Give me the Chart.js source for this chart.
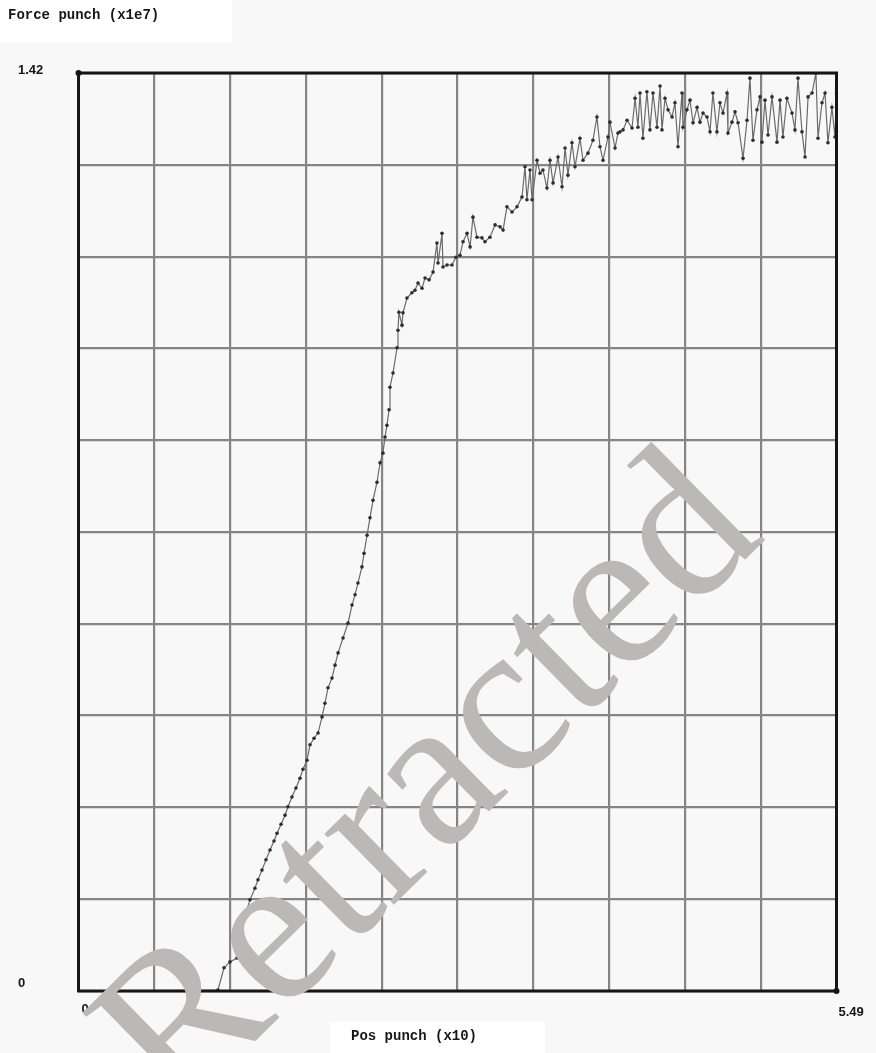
<!DOCTYPE html>
<html>
<head>
<meta charset="utf-8">
<script src="https://cdn.jsdelivr.net/npm/chart.js@4.4.1/dist/chart.umd.min.js"></script>
<style>
  html, body { margin: 0; padding: 0; background: #f8f8f8; }
  #wrap { position: relative; width: 876px; height: 1053px; }
</style>
</head>
<body>
<div id="wrap"><canvas id="forceChart"></canvas></div>
<script>
// punch position (x10) against punch force (x1e7)
const posPunch = [0, 1.010, 1.054, 1.097, 1.148, 1.170, 1.184, 1.213, 1.242, 1.278, 1.300, 1.329, 1.358, 1.387, 1.416, 1.438, 1.467, 1.496, 1.517, 1.546, 1.575, 1.604, 1.626, 1.655, 1.677, 1.706, 1.735, 1.764, 1.785, 1.807, 1.836, 1.858, 1.880, 1.916, 1.952, 1.981, 2.003, 2.024, 2.053, 2.068, 2.090, 2.111, 2.133, 2.162, 2.184, 2.205, 2.220, 2.234, 2.249, 2.256, 2.278, 2.307, 2.314, 2.321, 2.343, 2.350, 2.379, 2.415, 2.437, 2.459, 2.488, 2.510, 2.539, 2.568, 2.596, 2.604, 2.633, 2.640, 2.669, 2.705, 2.734, 2.763, 2.785, 2.814, 2.836, 2.857, 2.886, 2.922, 2.944, 2.980, 3.017, 3.053, 3.075, 3.103, 3.140, 3.176, 3.212, 3.234, 3.248, 3.270, 3.285, 3.321, 3.343, 3.364, 3.393, 3.415, 3.437, 3.473, 3.502, 3.524, 3.545, 3.574, 3.596, 3.632, 3.654, 3.690, 3.726, 3.755, 3.777, 3.799, 3.835, 3.849, 3.886, 3.907, 3.922, 3.944, 3.973, 4.009, 4.031, 4.052, 4.067, 4.088, 4.117, 4.139, 4.161, 4.190, 4.212, 4.226, 4.248, 4.270, 4.299, 4.320, 4.342, 4.371, 4.378, 4.407, 4.429, 4.451, 4.480, 4.501, 4.523, 4.552, 4.574, 4.595, 4.624, 4.646, 4.668, 4.697, 4.704, 4.733, 4.755, 4.777, 4.813, 4.842, 4.863, 4.885, 4.914, 4.936, 4.950, 4.972, 4.994, 5.023, 5.059, 5.081, 5.102, 5.131, 5.168, 5.189, 5.211, 5.240, 5.262, 5.284, 5.313, 5.341, 5.356, 5.385, 5.407, 5.428, 5.457, 5.479, 5.490];
const forcePunch = [0, 0.0015, 0.036, 0.045, 0.051, 0.071, 0.094, 0.122, 0.141, 0.159, 0.172, 0.187, 0.203, 0.218, 0.232, 0.244, 0.258, 0.272, 0.285, 0.300, 0.314, 0.329, 0.343, 0.357, 0.381, 0.391, 0.399, 0.424, 0.445, 0.469, 0.484, 0.504, 0.523, 0.546, 0.569, 0.597, 0.613, 0.631, 0.656, 0.677, 0.705, 0.732, 0.759, 0.787, 0.817, 0.832, 0.857, 0.875, 0.899, 0.934, 0.956, 0.995, 1.022, 1.050, 1.030, 1.049, 1.072, 1.080, 1.084, 1.095, 1.087, 1.103, 1.100, 1.112, 1.157, 1.126, 1.172, 1.120, 1.123, 1.123, 1.135, 1.138, 1.159, 1.172, 1.151, 1.197, 1.166, 1.165, 1.159, 1.166, 1.185, 1.182, 1.177, 1.213, 1.205, 1.213, 1.228, 1.275, 1.224, 1.270, 1.224, 1.285, 1.265, 1.270, 1.242, 1.285, 1.250, 1.290, 1.244, 1.304, 1.262, 1.312, 1.275, 1.319, 1.285, 1.296, 1.316, 1.352, 1.306, 1.285, 1.321, 1.344, 1.304, 1.327, 1.329, 1.332, 1.347, 1.335, 1.381, 1.336, 1.389, 1.319, 1.391, 1.332, 1.389, 1.336, 1.400, 1.332, 1.381, 1.363, 1.352, 1.374, 1.306, 1.389, 1.336, 1.363, 1.378, 1.343, 1.367, 1.344, 1.358, 1.352, 1.329, 1.389, 1.329, 1.374, 1.358, 1.389, 1.327, 1.344, 1.360, 1.343, 1.288, 1.347, 1.412, 1.316, 1.363, 1.383, 1.313, 1.378, 1.324, 1.383, 1.313, 1.378, 1.321, 1.381, 1.358, 1.332, 1.412, 1.329, 1.290, 1.383, 1.389, 1.420, 1.319, 1.374, 1.389, 1.312, 1.367, 1.321, 1.389];

// grid lines: ten divisions each way
const xGrid = [0, 0.549, 1.098, 1.647, 2.196, 2.745, 3.294, 3.843, 4.392, 4.941, 5.49];
const yGrid = [0, 0.142, 0.284, 0.426, 0.568, 0.71, 0.852, 0.994, 1.136, 1.278, 1.42];

// only the end values are labelled
const xTickLabels = ['0', '5.49'];
const yTickLabels = ['0', '1.42'];
const yTitle = 'Force punch (x1e7)';
const xTitle = 'Pos punch (x10)';
const stamp = 'Retracted';

const points = [];
for (let i = 0; i < Math.min(posPunch.length, forcePunch.length); i++) {
    points.push({ x: posPunch[i], y: forcePunch[i] });
}

const frame = {
    id: 'frame',
    beforeDraw(chart) {
        const ctx = chart.ctx;
        ctx.save();
        ctx.fillStyle = '#ffffff';
        ctx.fillRect(0, 0, 232, 42);
        ctx.fillRect(330, 1022, 215, 31);
        ctx.restore();
    },
    afterDatasetsDraw(chart) {
        const { ctx, chartArea: a, scales: { x, y } } = chart;
        ctx.save();
        // box round the plot
        ctx.strokeStyle = '#161616';
        ctx.lineWidth = 3;
        ctx.strokeRect(a.left, a.top, a.right - a.left, a.bottom - a.top);
        ctx.fillStyle = '#161616';
        ctx.beginPath();
        ctx.arc(a.left, a.top, 3, 0, Math.PI * 2);
        ctx.arc(a.right, a.bottom, 3, 0, Math.PI * 2);
        ctx.fill();

        // titles
        ctx.font = 'bold 14px "Liberation Mono", monospace';
        ctx.textBaseline = 'middle';
        ctx.textAlign = 'left';
        ctx.fillText(yTitle, 8, 15);
        ctx.textAlign = 'center';
        ctx.fillText(xTitle, 414, 1036);

        // end labels
        ctx.font = 'bold 13px "Liberation Sans Narrow", "Liberation Sans", sans-serif';
        ctx.textAlign = 'left';
        ctx.fillText(yTickLabels[1], 18, y.getPixelForValue(yGrid[yGrid.length - 1]) - 3);
        ctx.fillText(yTickLabels[0], 18, y.getPixelForValue(yGrid[0]) - 8);
        ctx.fillText(xTickLabels[0], x.getPixelForValue(xGrid[0]) + 3, a.bottom + 18);
        ctx.fillText(xTickLabels[1], x.getPixelForValue(xGrid[xGrid.length - 1]) + 2, a.bottom + 21);
        ctx.restore();
    },
    afterDraw(chart) {
        // diagonal stamp over the whole plot
        const ctx = chart.ctx;
        ctx.save();
        ctx.translate(472, 828);
        ctx.rotate(-44.5 * Math.PI / 180);
        ctx.font = '216px "Liberation Serif", serif';
        ctx.fillStyle = '#bcb8b8';
        ctx.textAlign = 'center';
        ctx.textBaseline = 'alphabetic';
        ctx.fillText(stamp, 0, 0);
        ctx.restore();
    }
};

const gridStyle = { color: '#858585', lineWidth: 2.2, drawTicks: false };

new Chart(document.getElementById('forceChart'), {
    type: 'line',
    data: {
        datasets: [{
            data: points,
            borderColor: '#6a6a6a',
            borderWidth: 1.2,
            pointRadius: 1.8,
            pointBackgroundColor: '#2e2e2e',
            pointBorderWidth: 0,
            tension: 0,
            fill: false
        }]
    },
    options: {
        responsive: true,
        maintainAspectRatio: false,
        animation: false,
        layout: { padding: { left: 78.5, right: 39.5, top: 73, bottom: 62 } },
        plugins: { legend: { display: false }, tooltip: { enabled: false } },
        scales: {
            x: {
                type: 'linear',
                min: 0,
                max: 5.49,
                afterBuildTicks: s => { s.ticks = xGrid.map(v => ({ value: v })); },
                ticks: { display: false },
                grid: gridStyle,
                border: { display: false }
            },
            y: {
                min: 0,
                max: 1.42,
                afterBuildTicks: s => { s.ticks = yGrid.map(v => ({ value: v })); },
                ticks: { display: false },
                grid: gridStyle,
                border: { display: false }
            }
        }
    },
    plugins: [frame]
});
</script>
</body>
</html>
